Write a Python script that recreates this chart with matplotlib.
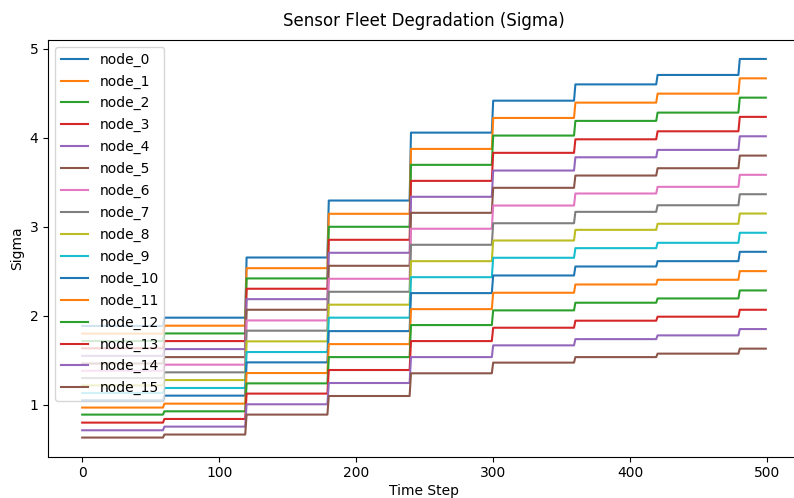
import numpy as np
import matplotlib.pyplot as plt

# one value per 60-step segment (0-59, 60-119, ..., 480-499)
node_0 = [1.886, 1.979, 2.655, 3.295, 4.058, 4.417, 4.600, 4.706, 4.886]
node_1 = [1.800, 1.889, 2.535, 3.146, 3.875, 4.223, 4.395, 4.496, 4.668]
node_2 = [1.717, 1.802, 2.420, 3.000, 3.696, 4.025, 4.190, 4.283, 4.451]
node_3 = [1.635, 1.716, 2.304, 2.854, 3.516, 3.831, 3.983, 4.073, 4.235]
node_4 = [1.550, 1.626, 2.187, 2.708, 3.337, 3.632, 3.781, 3.864, 4.017]
node_5 = [1.464, 1.536, 2.068, 2.562, 3.157, 3.438, 3.576, 3.658, 3.800]
node_6 = [1.383, 1.451, 1.948, 2.416, 2.978, 3.239, 3.374, 3.449, 3.584]
node_7 = [1.301, 1.365, 1.833, 2.270, 2.798, 3.040, 3.168, 3.242, 3.366]
node_8 = [1.218, 1.278, 1.713, 2.125, 2.614, 2.846, 2.966, 3.034, 3.149]
node_9 = [1.133, 1.189, 1.593, 1.979, 2.434, 2.652, 2.760, 2.820, 2.933]
node_10 = [1.051, 1.103, 1.477, 1.828, 2.255, 2.453, 2.554, 2.614, 2.719]
node_11 = [0.969, 1.013, 1.357, 1.682, 2.075, 2.259, 2.352, 2.405, 2.502]
node_12 = [0.890, 0.927, 1.241, 1.536, 1.896, 2.061, 2.147, 2.195, 2.285]
node_13 = [0.800, 0.841, 1.126, 1.391, 1.716, 1.866, 1.945, 1.990, 2.068]
node_14 = [0.714, 0.755, 1.006, 1.245, 1.536, 1.668, 1.738, 1.780, 1.851]
node_15 = [0.632, 0.666, 0.890, 1.099, 1.354, 1.474, 1.536, 1.575, 1.631]

nodes = [node_0, node_1, node_2, node_3, node_4, node_5, node_6, node_7,
         node_8, node_9, node_10, node_11, node_12, node_13, node_14, node_15]

n_steps = 500
seg_len = 60
t = np.arange(n_steps)

fig = plt.figure(figsize=(7.94, 4.98), dpi=100)
ax = fig.add_axes([48 / 794, 41.5 / 498, 752 / 794, 416.5 / 498])

for i, seg_vals in enumerate(nodes):
    sigma = np.array(seg_vals)[t // seg_len]
    ax.plot(t, sigma, label=f"node_{i}")

ax.set_title("Sensor Fleet Degradation (Sigma)", pad=10)
ax.set_xlabel("Time Step", labelpad=3)
ax.set_ylabel("Sigma")
ax.legend(loc="upper left", labelspacing=0.56)

fig.savefig("out.png", dpi=100, facecolor="white")
